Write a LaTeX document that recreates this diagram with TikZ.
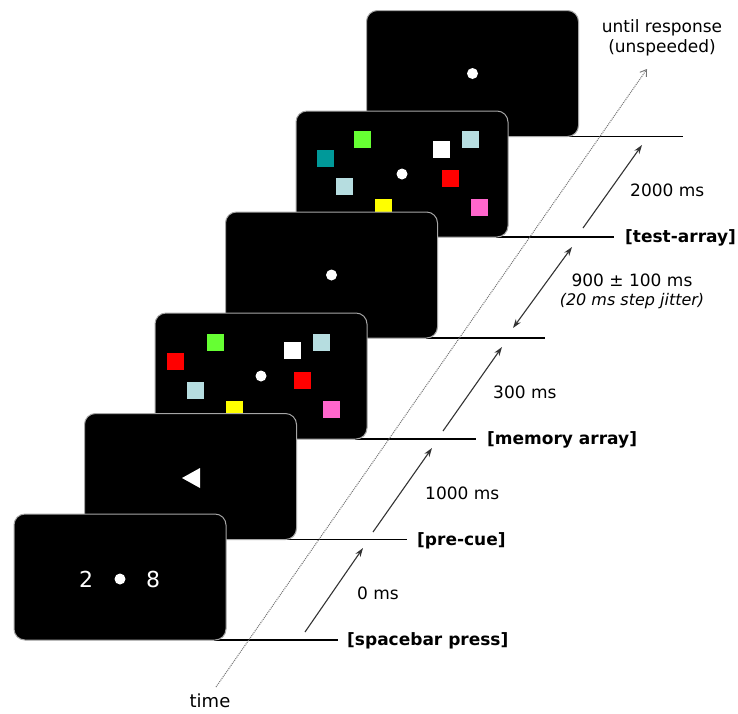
\documentclass[tikz,border=0pt]{standalone}
\usepackage{fontspec}
\setmainfont{DejaVu Sans}
\usetikzlibrary{arrows.meta,calc}
\definecolor{cgreen}{HTML}{66FF33}
\definecolor{cred}{HTML}{FF0000}
\definecolor{cblue}{HTML}{B6DDE0}
\definecolor{cyellow}{HTML}{FFFF00}
\definecolor{cteal}{HTML}{009999}
\definecolor{cpink}{HTML}{FF66CC}
\pgfdeclarelayer{bg}
\pgfsetlayers{bg,main}
\tikzset{
  screen/.style={draw=black!35, line width=1pt, fill=black, rounded corners=11pt,
    minimum width=212pt, minimum height=126pt, inner sep=0pt, outer sep=0pt},
  fixdot/.style={circle, fill=white, minimum size=11pt, inner sep=0pt},
  sq/.style={fill=#1, minimum size=17pt, inner sep=0pt, anchor=north west},
  onsetline/.style={line width=1.2pt, black},
  evlabel/.style={font=\fontsize{17}{20}\selectfont\bfseries, anchor=west, inner sep=0pt},
  durlabel/.style={font=\fontsize{17}{20}\selectfont, anchor=west, inner sep=0pt},
  durarrow/.style={-{Stealth[length=9pt,width=6pt]}, line width=1.1pt, black!80},
  durarrowboth/.style={{Stealth[length=9pt,width=6pt]}-{Stealth[length=9pt,width=6pt]}, line width=1.1pt, black!80},
  timeline/.style={densely dotted, line width=1pt, black!55,
    -{Straight Barb[length=6pt,width=8pt,line width=0.9pt]}},
  digit/.style={text=white, font=\fontsize{22}{22}\selectfont, inner sep=0pt},
}
\begin{document}
\begin{tikzpicture}[x=1pt,y=-1pt]
\begin{pgfonlayer}{bg}
\fill[white] (0,0) rectangle (738,713);
\end{pgfonlayer}
\useasboundingbox (0,0) rectangle (738,713);

% x positions of the right ends of the onset lines
\coordinate (e0) at (338,0);
\coordinate (e1) at (407,0);
\coordinate (e2) at (476,0);
\coordinate (e3) at (545,0);
\coordinate (e4) at (614,0);
\coordinate (e5) at (683,0);

% screen 5: final fixation
\node[screen] (s5) at (472.5,73.5) {};
\node[fixdot] (f5) at (s5.center) {};
\begin{pgfonlayer}{bg}
\draw[onsetline] ($(s5.south east)+(-12,0)$) -- (s5.south east -| e5);
\end{pgfonlayer}

% screen 4: test array
\node[screen] (s4) at (402,174) {};
\node[sq=cgreen]  (t1) at ($(s4.north west)+(58,20)$) {};
\node[sq=cteal]   (t2) at ($(s4.north west)+(21,39)$) {};
\node[sq=cblue]   (t3) at ($(s4.north west)+(40,67)$) {};
\node[sq=cyellow] (t4) at ($(s4.north west)+(79,88)$) {};
\node[sq=white]   (t5) at ($(s4.north west)+(137,30)$) {};
\node[sq=cblue]   (t6) at ($(s4.north west)+(166,20)$) {};
\node[sq=cred]    (t7) at ($(s4.north west)+(146,59)$) {};
\node[sq=cpink]   (t8) at ($(s4.north west)+(175,88)$) {};
\node[fixdot] (f4) at (s4.center) {};
\begin{pgfonlayer}{bg}
\draw[onsetline] ($(s4.south east)+(-12,0)$) -- (s4.south east -| e4);
\end{pgfonlayer}

% screen 3: delay
\node[screen] (s3) at (331.5,275) {};
\node[fixdot] (f3) at (s3.center) {};
\begin{pgfonlayer}{bg}
\draw[onsetline] ($(s3.south east)+(-12,0)$) -- (s3.south east -| e3);
\end{pgfonlayer}

% screen 2: memory array
\node[screen] (s2) at (261,376) {};
\node[sq=cgreen]  (m1) at ($(s2.north west)+(52,21)$) {};
\node[sq=cred]    (m2) at ($(s2.north west)+(12,40)$) {};
\node[sq=cblue]   (m3) at ($(s2.north west)+(32,69)$) {};
\node[sq=cyellow] (m4) at ($(s2.north west)+(71,88)$) {};
\node[sq=white]   (m5) at ($(s2.north west)+(129,29)$) {};
\node[sq=cblue]   (m6) at ($(s2.north west)+(158,21)$) {};
\node[sq=cred]    (m7) at ($(s2.north west)+(139,59)$) {};
\node[sq=cpink]   (m8) at ($(s2.north west)+(168,88)$) {};
\node[fixdot] (f2) at (s2.center) {};
\begin{pgfonlayer}{bg}
\draw[onsetline] ($(s2.south east)+(-12,0)$) -- (s2.south east -| e2);
\end{pgfonlayer}

% screen 1: pre-cue
\node[screen] (s1) at (190.5,476.5) {};
\fill[white] ($(s1.center)+(-8.5,1.5)$) -- ($(s1.center)+(9.5,-8.5)$) -- ($(s1.center)+(9.5,11.5)$) -- cycle;
\begin{pgfonlayer}{bg}
\draw[onsetline] ($(s1.south east)+(-12,0)$) -- (s1.south east -| e1);
\end{pgfonlayer}

% screen 0: start
\node[screen] (s0) at (120,577) {};
\node[fixdot] (f0) at ($(s0.center)+(0,2)$) {};
\node[digit] (d2) at (86,579) {2};
\node[digit] (d8) at (153,579) {8};
\begin{pgfonlayer}{bg}
\draw[onsetline] ($(s0.south east)+(-12,0)$) -- (s0.south east -| e0);
\end{pgfonlayer}

% event labels
\node[evlabel] (l0) at ($(s0.south east -| e0)+(9,1)$) {[spacebar press]};
\node[evlabel] (l1) at ($(s1.south east -| e1)+(10,1)$) {[pre-cue]};
\node[evlabel] (l2) at ($(s2.south east -| e2)+(11,1)$) {[memory array]};
\node[evlabel] (l4) at ($(s4.south east -| e4)+(11,1)$) {[test-array]};

% duration arrows
\coordinate (a0s) at (305,632); \coordinate (a0e) at (363,548);
\coordinate (a1s) at (373,532); \coordinate (a1e) at (432,448);
\coordinate (a2s) at (443,431); \coordinate (a2e) at (502,347);
\coordinate (a3s) at (513,328); \coordinate (a3e) at (572,247);
\coordinate (a4s) at (583,228); \coordinate (a4e) at (642,145);
\draw[durarrow] (a0s) -- (a0e);
\draw[durarrow] (a1s) -- (a1e);
\draw[durarrow] (a2s) -- (a2e);
\draw[durarrowboth] (a3s) -- (a3e);
\draw[durarrow] (a4s) -- (a4e);

\node[durlabel] (d0) at (357,593) {0 ms};
\node[durlabel] (d1) at (425,493) {1000 ms};
\node[durlabel] (d2l) at (493,392) {300 ms};
\node[font=\fontsize{17}{19}\selectfont, align=center, inner sep=0pt] (d3) at (632,291)
  {900 ± 100 ms\\{\fontsize{16}{19}\selectfont\itshape (20 ms step jitter)}};
\node[durlabel] (d4) at (630,190) {2000 ms};

% time axis
\node[font=\fontsize{18}{21}\selectfont, inner sep=0pt] (timelbl) at (210,701) {time};
\node[font=\fontsize{17}{20}\selectfont, align=center, inner sep=0pt] (until) at (662,38)
  {until response\\(unspeeded)};
\coordinate (t0) at (216,687);
\coordinate (tend) at (647,69);
\draw[timeline] (t0) -- (tend);
\end{tikzpicture}
\end{document}
